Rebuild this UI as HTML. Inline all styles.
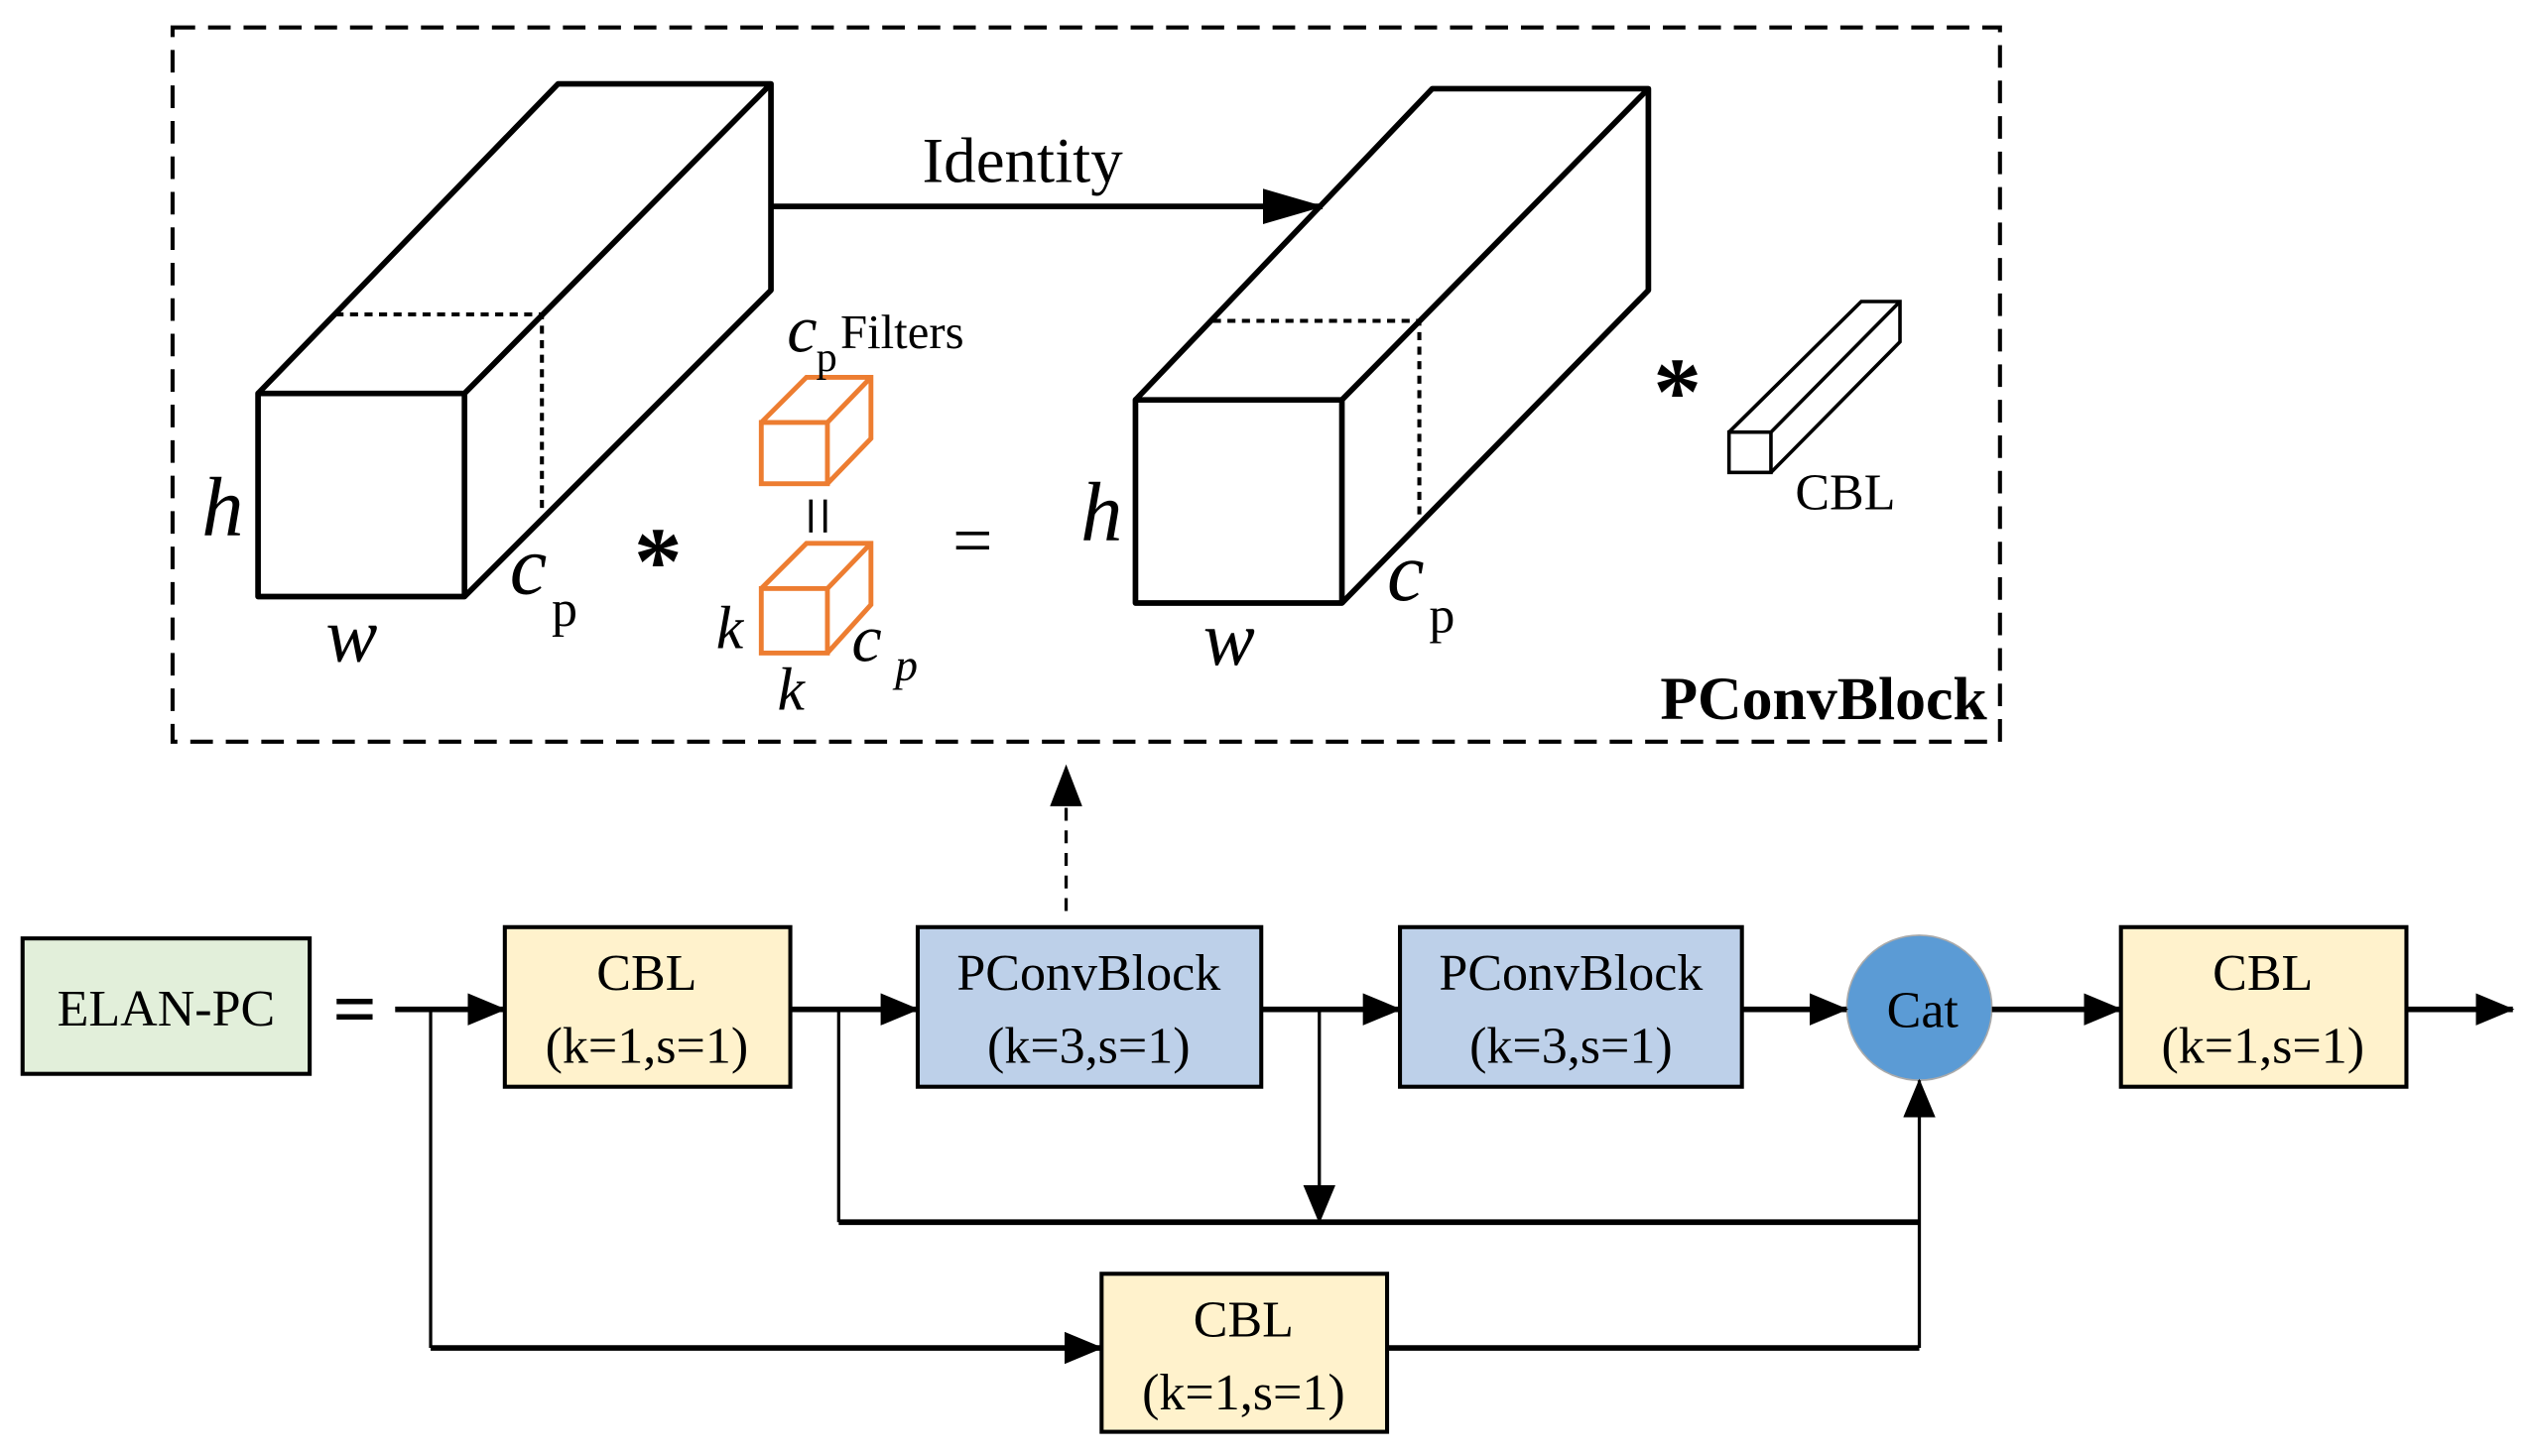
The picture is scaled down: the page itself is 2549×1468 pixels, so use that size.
<!DOCTYPE html>
<html><head><meta charset="utf-8"><style>html,body{margin:0;padding:0;background:#fff}svg{display:block}</style></head><body>
<svg width="2549" height="1468" viewBox="0 0 1568 903" xmlns="http://www.w3.org/2000/svg" font-family="'Liberation Serif', serif">
<defs>
<marker id="a" markerWidth="24" markerHeight="20" refX="23" refY="10" orient="auto" markerUnits="userSpaceOnUse" viewBox="0 0 24 20"><path d="M0,0 L24,10 L0,20z" fill="#000"/></marker>
<marker id="b" markerWidth="38" markerHeight="22" refX="37" refY="11" orient="auto" markerUnits="userSpaceOnUse" viewBox="0 0 38 22"><path d="M0,0 L38,11 L0,22z" fill="#000"/></marker>
</defs>
<rect x="107" y="17" width="1133" height="443" fill="none" stroke="#000" stroke-width="2.5" stroke-dasharray="14,8"/>
<g fill="none" stroke="#000" stroke-width="3.5" stroke-linejoin="round">
<rect x="160" y="244" width="128" height="126"/>
<path d="M160,244 L346,52 L478,52 L478,180 L288,370 M288,244 L478,52"/>
<rect x="704" y="248" width="128" height="126"/>
<path d="M704,248 L888,55 L1022,55 L1022,180 L832,374 M832,248 L1022,55"/>
</g>
<g fill="none" stroke="#000" stroke-width="2.5" stroke-dasharray="5,4">
<path d="M208,195 L336,195 L336,318"/>
<path d="M752,199 L880,199 L880,322"/>
</g>
<g fill="none" stroke="#000" stroke-width="2.2">
<rect x="1072" y="268" width="26" height="25"/>
<path d="M1072,268 L1154,187 L1178,187 L1178,212 L1098,293 M1098,268 L1178,187"/>
</g>
<g fill="none" stroke="#ed7d31" stroke-width="3">
<rect x="472" y="262" width="41" height="38"/>
<path d="M472,262 L500,234 L540,234 L540,272 L513,300 M513,262 L540,234"/>
<rect x="472" y="365" width="41" height="40"/>
<path d="M472,365 L500,337 L540,337 L540,375 L513,405 M513,365 L540,337"/>
</g>
<line x1="478" y1="128" x2="820" y2="128" stroke="#000" stroke-width="3.5" marker-end="url(#b)"/>
<text x="634" y="113" font-size="40" text-anchor="middle">Identity</text>
<g font-style="italic" font-size="52">
<text x="125" y="332">h</text>
<text x="670" y="335">h</text>
<text x="202" y="410" font-size="48">w</text>
<text x="746" y="412" font-size="48">w</text>
<text x="316" y="368">c</text>
<text x="860" y="372">c</text>
<text x="488" y="218" font-size="42">c</text>
<text x="528" y="410" font-size="42">c</text>
<text x="444" y="402" font-size="38">k</text>
<text x="482" y="440" font-size="38">k</text>
<text x="555" y="422" font-size="28">p</text>
</g>
<g font-size="32">
<text x="342" y="388">p</text>
<text x="886" y="392">p</text>
<text x="506" y="230" font-size="26">p</text>
<text x="521" y="216" font-size="30">Filters</text>
<text x="1113" y="316">CBL</text>
</g>
<text x="408" y="368" font-size="60" font-weight="bold" text-anchor="middle">*</text>
<text x="1040" y="263" font-size="60" font-weight="bold" text-anchor="middle">*</text>
<text x="603" y="350" font-size="44" text-anchor="middle">=</text>
<text x="507" y="320" font-size="44" text-anchor="middle" dominant-baseline="central" transform="rotate(90 507 320)">=</text>
<text x="1232" y="446" font-size="38" font-weight="bold" text-anchor="end">PConvBlock</text>
<line x1="661" y1="565" x2="661" y2="498" stroke="#000" stroke-width="2" stroke-dasharray="8,6"/>
<path d="M651,500 L661,474 L671,500z" fill="#000"/>
<g stroke="#000" stroke-width="2.5">
<rect x="14" y="582" width="178" height="84" fill="#e2efda"/>
<rect x="313" y="575" width="177" height="99" fill="#fff2cc"/>
<rect x="569" y="575" width="213" height="99" fill="#bdd0e9"/>
<rect x="868" y="575" width="212" height="99" fill="#bdd0e9"/>
<rect x="1315" y="575" width="177" height="99" fill="#fff2cc"/>
<rect x="683" y="790" width="177" height="98" fill="#fff2cc"/>
</g>
<circle cx="1190" cy="625" r="45" fill="#5b9bd5" stroke="#aaa" stroke-width="1"/>
<text x="220" y="642" font-size="48" text-anchor="middle" font-weight="bold">=</text>
<g stroke="#000" stroke-width="3.5" fill="none">
<line x1="245" y1="626" x2="313" y2="626" marker-end="url(#a)"/>
<line x1="490" y1="626" x2="569" y2="626" marker-end="url(#a)"/>
<line x1="782" y1="626" x2="868" y2="626" marker-end="url(#a)"/>
<line x1="1080" y1="626" x2="1145" y2="626" marker-end="url(#a)"/>
<line x1="1235" y1="626" x2="1315" y2="626" marker-end="url(#a)"/>
<line x1="1492" y1="626" x2="1558" y2="626" marker-end="url(#a)"/>
<line x1="267" y1="836" x2="683" y2="836" marker-end="url(#a)"/>
<path d="M860,836 L1190,836"/>
<path d="M520,758 L1190,758"/>
</g>
<g stroke="#000" stroke-width="2" fill="none">
<path d="M267,626 L267,836"/>
<path d="M1190,836 L1190,670" marker-end="url(#a)"/>
<path d="M520,626 L520,758"/>
<path d="M818,626 L818,758" marker-end="url(#a)"/>
</g>
<g font-size="32" text-anchor="middle">
<text x="103" y="636">ELAN-PC</text>
<text x="401" y="614">CBL</text><text x="401" y="659">(k=1,s=1)</text>
<text x="675" y="614">PConvBlock</text><text x="675" y="659">(k=3,s=1)</text>
<text x="974" y="614">PConvBlock</text><text x="974" y="659">(k=3,s=1)</text>
<text x="1192" y="637">Cat</text>
<text x="1403" y="614">CBL</text><text x="1403" y="659">(k=1,s=1)</text>
<text x="771" y="829">CBL</text><text x="771" y="874">(k=1,s=1)</text>
</g>
</svg>
</body></html>
